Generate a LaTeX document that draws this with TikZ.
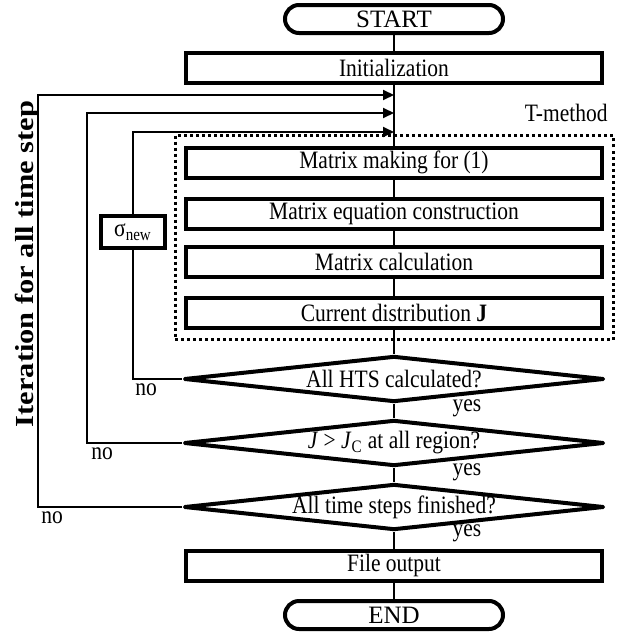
\documentclass[tikz,border=0pt]{standalone}
\usepackage{fontspec}
\setmainfont{Liberation Serif}[FakeStretch=0.86]
\newfontfamily\termfont{Liberation Serif}
\newfontfamily\sidefont{Liberation Serif}[FakeStretch=1.17]
\usetikzlibrary{positioning,arrows.meta,shapes.geometric,fit}

\begin{document}
\begin{tikzpicture}[
    x=0.5pt, y=-0.5pt,
    font=\fontsize{12.5}{14}\selectfont,
    terminal/.style={
        rectangle, draw, line width=2pt, rounded corners=7pt,
        minimum width=109pt, minimum height=14pt, inner sep=0pt,
        font=\fontsize{12.5}{14}\termfont
    },
    procbox/.style={
        rectangle, draw, line width=2pt, minimum width=208pt, minimum height=15pt, inner sep=0pt
    },
    decision/.style={
        diamond, draw, line width=2pt, line join=round, aspect=9,
        minimum width=210pt, minimum height=23pt, inner sep=0pt
    },
    flow/.style={line width=1pt},
    loopback/.style={line width=1pt, -{Triangle[length=5.5pt,width=5pt]}},
    tag/.style={inner sep=0pt},
    on grid
]
\useasboundingbox (0,0) rectangle (631,637);

% Main column
\node[terminal] (start) at (394,19) {START};
\node[procbox, below=24.25pt of start] (init) {Initialization};
\node[procbox, below=47.5pt of init] (b1) {Matrix making for (1)};
\node[procbox, below=25.5pt of b1] (b2) {Matrix equation construction};
\node[procbox, below=24pt of b2] (b3) {Matrix calculation};
\node[procbox, below=25.5pt of b3] (b4) {Current distribution \textbf{J}};

% Decisions
\node[decision, below=33.25pt of b4] (d1) {All HTS calculated?};
\node[decision, below=32pt of d1] (d2) {\textit{J} > \textit{J}\textsubscript{C} at all region?};
\node[decision, below=32pt of d2] (d3) {All time steps finished?};

% Bottom
\node[procbox, below=29.25pt of d3] (out) {File output};
\node[terminal, below=24.75pt of out] (finish) {END};

% T-method frame
\node[draw, line width=1.5pt, dash pattern=on 1.5pt off 1.5pt, fit=(b1)(b4),
      inner xsep=4.5pt, inner ysep=5pt] (tm) {};
\node[tag, anchor=east] (tlab) at (608,113) {T-method};

% Conductivity update
\node[procbox, minimum width=32pt, minimum height=16pt] (sig) at (133,232) {σ\textsubscript{new}};

% Side label
\node[tag, rotate=90, font=\fontsize{13}{15}\sidefont\bfseries] (iter) at (27,264) {Iteration for all time step};

% Merge points on the main line
\coordinate (m3) at (394,95);
\coordinate (m2) at (394,113);
\coordinate (m1) at (394,132);
\coordinate (c3) at (38,95);
\coordinate (c2) at (87,113);

% Edges along the main column
\foreach \from/\to in {start/init, init/b1, b1/b2, b2/b3, b3/b4, b4/d1, d1/d2, d2/d3, d3/out, out/finish}
{
    \draw[flow] (\from) -- (\to);
}

% Loops back
\draw[flow] (d1.west) -| (sig.south);
\draw[loopback] (sig.north) |- (m1);
\draw[loopback] (d2.west) -| (c2) -- (m2);
\draw[loopback] (d3.west) -| (c3) -- (m3);

% yes / no
\node[tag] (no1) at (146,390) {no};
\node[tag] (no2) at (102,454) {no};
\node[tag] (no3) at (52,518) {no};
\node[tag] (yes1) at (467,408) {yes};
\node[tag] (yes2) at (467,472) {yes};
\node[tag] (yes3) at (467,533) {yes};

\end{tikzpicture}
\end{document}
